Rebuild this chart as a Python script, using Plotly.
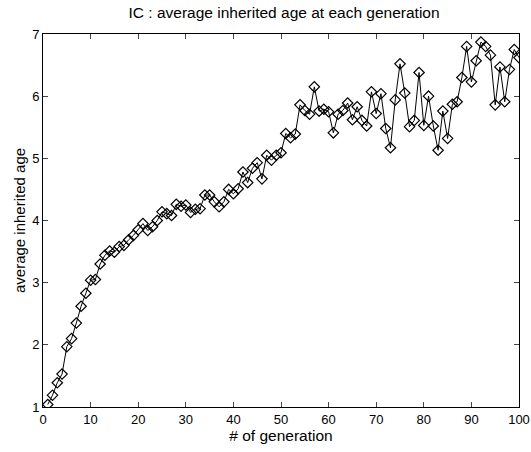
import plotly.graph_objects as go

generations = list(range(1, 101))
avg_age = [
    1.04, 1.19, 1.39, 1.53, 1.97, 2.10, 2.35, 2.62, 2.83, 3.04,
    3.05, 3.30, 3.44, 3.51, 3.49, 3.58, 3.60, 3.69, 3.76, 3.85,
    3.95, 3.84, 3.90, 4.00, 4.14, 4.11, 4.08, 4.26, 4.23, 4.25,
    4.13, 4.18, 4.19, 4.41, 4.41, 4.30, 4.22, 4.30, 4.50, 4.43,
    4.51, 4.78, 4.61, 4.84, 4.93, 4.67, 5.05, 4.97, 5.05, 5.09,
    5.40, 5.33, 5.39, 5.86, 5.77, 5.71, 6.15, 5.76, 5.79, 5.75,
    5.41, 5.71, 5.77, 5.89, 5.62, 5.83, 5.61, 5.52, 6.07, 5.72,
    6.04, 5.48, 5.17, 5.94, 6.52, 6.05, 5.51, 5.61, 6.38, 5.53,
    6.00, 5.52, 5.13, 5.76, 5.32, 5.87, 5.91, 6.30, 6.80, 6.23,
    6.57, 6.87, 6.80, 6.66, 5.86, 6.47, 5.91, 6.43, 6.75, 6.62,
]
x_ticks = [0, 10, 20, 30, 40, 50, 60, 70, 80, 90, 100]
y_ticks = [1, 2, 3, 4, 5, 6, 7]

fig = go.Figure()
fig.add_trace(go.Scatter(
    x=generations, y=avg_age, mode="lines+markers",
    line=dict(color="black", width=1),
    marker=dict(symbol="diamond-open", size=8, color="black", line=dict(width=1.2)),
    showlegend=False,
))

font = dict(family="Liberation Sans, Arial, sans-serif", color="black")
fig.update_layout(
    width=531, height=452,
    margin=dict(l=43, r=12, t=34, b=45),
    paper_bgcolor="white", plot_bgcolor="white",
    font=dict(size=13, **font),
    title=dict(text="IC : average inherited age at each generation",
               x=0.535, xanchor="center", y=0.973, yanchor="middle",
               font=dict(size=15.5, **font)),
    xaxis=dict(range=[0, 100], tickvals=x_ticks, ticks="inside", ticklen=5,
               showline=True, linecolor="black", linewidth=1, mirror="ticks",
               showgrid=False, zeroline=False, automargin=False,
               title=dict(text="# of generation", standoff=4, font=dict(size=15.5, **font))),
    yaxis=dict(range=[1, 7], tickvals=y_ticks, ticks="inside", ticklen=5,
               showline=True, linecolor="black", linewidth=1, mirror="ticks",
               showgrid=False, zeroline=False, automargin=False,
               title=dict(text="average inherited age", standoff=2, font=dict(size=15, **font))),
)
fig.write_html("out.html")
